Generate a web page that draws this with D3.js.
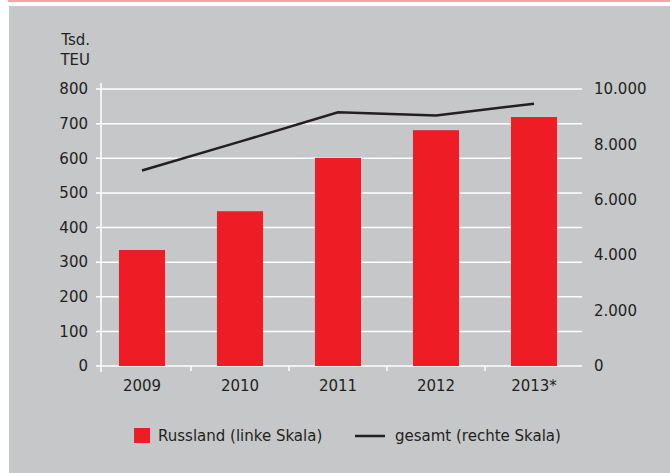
<!DOCTYPE html>
<html>
<head>
<meta charset="utf-8">
<script src="https://cdn.jsdelivr.net/npm/d3@7"></script>
<style>
  body { margin: 0; background: #fff; }
  text { font-family: "DejaVu Sans", sans-serif; fill: #231f20; font-size: 15px; }
</style>
</head>
<body>
<script>
const width = 670;
const height = 473;

// data
const years = ["2009", "2010", "2011", "2012", "2013*"];
const russland = [335, 447, 601, 681, 719]; // Tsd. TEU, left scale
const gesamt = [7060, 8100, 9160, 9040, 9470]; // right scale
const leftTicks = [0, 100, 200, 300, 400, 500, 600, 700, 800];
const rightTicks = [0, 2000, 4000, 6000, 8000, 10000];

let svg = d3
  .select("body")
  .append("svg")
  .attr("width", width)
  .attr("height", height);

// panel background + thin pink rule on top
svg.append("rect")
  .attr("x", 9).attr("y", 6)
  .attr("width", width - 9).attr("height", height - 6)
  .attr("fill", "#c6c7c9");
svg.append("rect")
  .attr("x", 8).attr("y", 0)
  .attr("width", width - 8).attr("height", 2)
  .attr("fill", "#f4a5a9");

let plot = { left: 101, right: 582, top: 89, bottom: 366 };

let x = d3.scaleBand()
  .domain(years)
  .range([93, 583])
  .paddingInner(0.53)
  .paddingOuter(0.265);

let yL = d3.scaleLinear().domain([0, 800]).range([plot.bottom, plot.top]);
let yR = d3.scaleLinear().domain([0, 10000]).range([plot.bottom, plot.top]);

// gridlines
svg.append("g")
  .selectAll("line")
  .data(leftTicks)
  .join("line")
  .attr("x1", 96)
  .attr("x2", plot.right)
  .attr("y1", (d) => yL(d))
  .attr("y2", (d) => yL(d))
  .attr("stroke", "#fff")
  .attr("stroke-width", 1.5);

// left axis line
svg.append("line")
  .attr("x1", plot.left).attr("x2", plot.left)
  .attr("y1", 83).attr("y2", 372)
  .attr("stroke", "#fff").attr("stroke-width", 1.5);

// bars
svg.append("g")
  .selectAll("rect")
  .data(years)
  .join("rect")
  .attr("x", (d) => x(d))
  .attr("width", x.bandwidth())
  .attr("y", (d, i) => yL(russland[i]))
  .attr("height", (d, i) => yL(0) - yL(russland[i]))
  .attr("fill", "#ee1c25");

// x axis ticks between categories
let xTicks = years.slice(1).map((d) => x(d) - x.step() * x.paddingInner() / 2);
svg.append("g")
  .selectAll("line")
  .data(xTicks)
  .join("line")
  .attr("x1", (d) => d).attr("x2", (d) => d)
  .attr("y1", plot.bottom).attr("y2", plot.bottom + 5)
  .attr("stroke", "#fff").attr("stroke-width", 1.5);

// line series
let line = d3.line()
  .x((d, i) => x(years[i]) + x.bandwidth() / 2)
  .y((d) => yR(d));

svg.append("path")
  .datum(gesamt)
  .attr("d", line)
  .attr("fill", "none")
  .attr("stroke", "#231f20")
  .attr("stroke-width", 2.5);

// tick labels
svg.append("g")
  .selectAll("text")
  .data(leftTicks)
  .join("text")
  .attr("x", 88)
  .attr("y", (d) => yL(d))
  .attr("dy", "0.35em")
  .attr("text-anchor", "end")
  .text((d) => d);

let fmtDE = (d) => d3.format(",")(d).replace(/,/g, ".");
svg.append("g")
  .selectAll("text")
  .data(rightTicks)
  .join("text")
  .attr("x", 594)
  .attr("y", (d) => yR(d))
  .attr("dy", "0.35em")
  .text((d) => fmtDE(d));

svg.append("g")
  .selectAll("text")
  .data(years)
  .join("text")
  .attr("x", (d) => x(d) + x.bandwidth() / 2)
  .attr("y", 391)
  .attr("text-anchor", "middle")
  .text((d) => d);

// unit label
svg.append("text").attr("x", 90).attr("y", 45)
  .attr("text-anchor", "end").text("Tsd.");
svg.append("text").attr("x", 90).attr("y", 65)
  .attr("text-anchor", "end").text("TEU");

// legend
let legend = svg.append("g");
legend.append("rect")
  .attr("x", 134).attr("y", 428)
  .attr("width", 16).attr("height", 15)
  .attr("fill", "#ee1c25");
legend.append("text")
  .attr("x", 158).attr("y", 441)
  .text("Russland (linke Skala)");
legend.append("line")
  .attr("x1", 355).attr("x2", 385)
  .attr("y1", 436).attr("y2", 436)
  .attr("stroke", "#231f20").attr("stroke-width", 2.5);
legend.append("text")
  .attr("x", 395).attr("y", 441)
  .text("gesamt (rechte Skala)");
</script>
</body>
</html>
